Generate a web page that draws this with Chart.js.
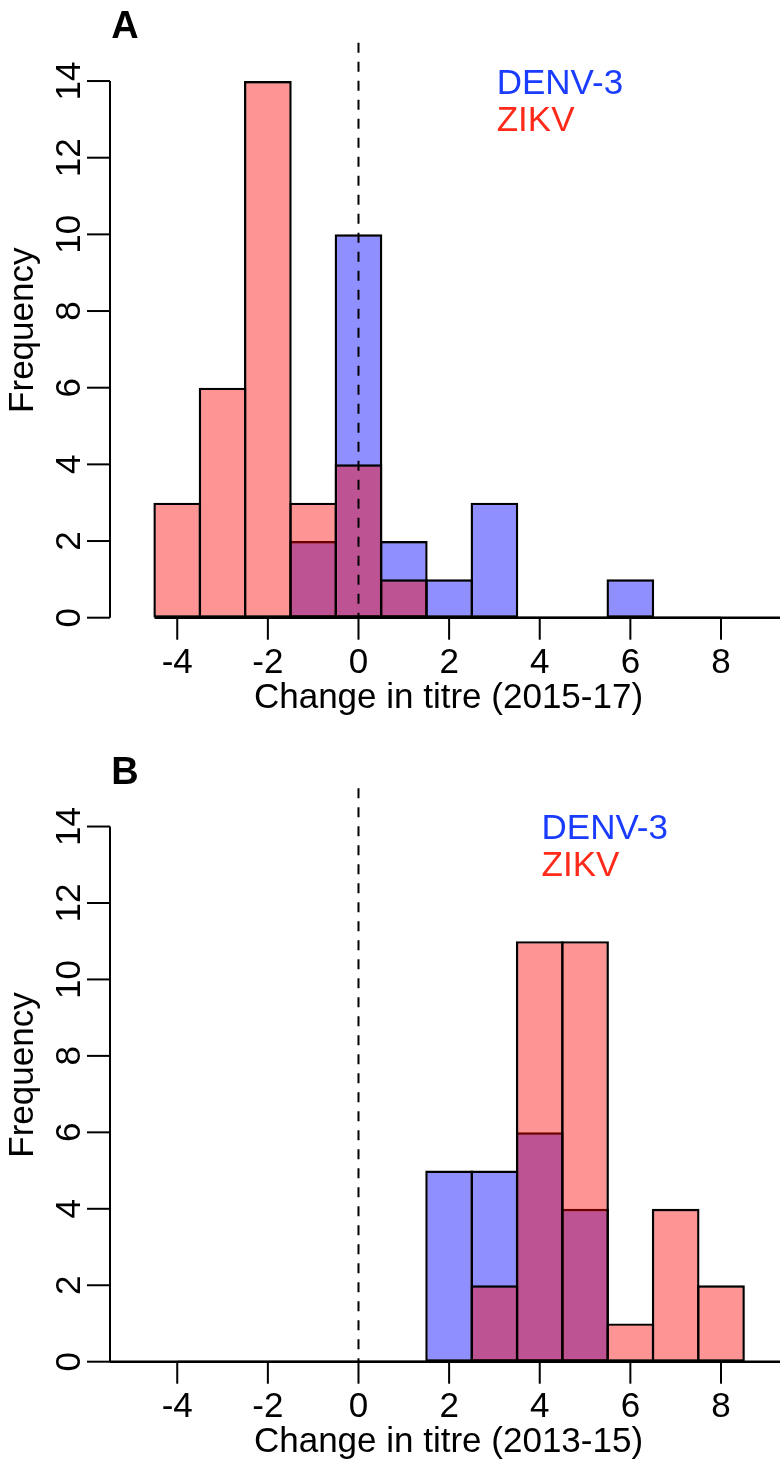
<!DOCTYPE html>
<html>
<head>
<meta charset="utf-8">
<script src="https://cdn.jsdelivr.net/npm/chart.js@4.4.1/dist/chart.umd.min.js"></script>
<style>
    html, body { margin: 0; padding: 0; background: #fff; overflow: hidden; }
    .panel { position: absolute; left: 0; width: 787px; height: 734px; }
</style>
</head>
<body>
<div class="panel" style="top:0"><canvas id="chartA" width="787" height="734"></canvas></div>
<div class="panel" style="top:734px"><canvas id="chartB" width="787" height="734"></canvas></div>
<script>
// bin centres (bins are 1 unit wide) and counts per bin
const binsA = [-4, -3, -2, -1, 0, 1, 2, 3, 4, 5, 6, 7, 8, 9];
const denvA = [0, 0, 0, 2, 10, 2, 1, 3, 0, 0, 1, 0, 0, 0];
const zikvA = [3, 6, 14, 3, 4, 1, 0, 0, 0, 0, 0, 0, 0, 0];

const binsB = [-5, -4, -3, -2, -1, 0, 1, 2, 3, 4, 5, 6, 7, 8, 9];
const denvB = [0, 0, 0, 0, 0, 0, 0, 5, 5, 6, 4, 0, 0, 0, 0];
const zikvB = [0, 0, 0, 0, 0, 0, 0, 0, 2, 11, 11, 1, 4, 2, 0];

const xTicks = [-4, -2, 0, 2, 4, 6, 8];
const yTicks = [0, 2, 4, 6, 8, 10, 12, 14];
const seriesNames = ['DENV-3', 'ZIKV'];

const FONT = "'Liberation Sans', Arial, Helvetica, sans-serif";
const BORDER = 2.4;

function line(ctx, x1, y1, x2, y2) {
    ctx.beginPath();
    ctx.moveTo(x1, y1);
    ctx.lineTo(x2, y2);
    ctx.stroke();
}

// R-style axes, dashed zero line, titles and text legend
const rAxes = {
    id: 'rAxes',
    afterDatasetsDraw(chart, args, opts) {
        const ctx = chart.ctx;
        const xs = chart.scales.x, ys = chart.scales.y, area = chart.chartArea;
        const y0 = ys.getPixelForValue(0);
        ctx.save();
        ctx.strokeStyle = '#000';
        ctx.fillStyle = '#000';

        // empty-bin baseline of the histogram
        ctx.lineWidth = BORDER;
        const bl = Math.max(area.left, xs.getPixelForValue(opts.bins[0] - 0.5));
        const br = Math.min(area.right, xs.getPixelForValue(opts.bins[opts.bins.length - 1] + 0.5));
        line(ctx, bl, y0, br, y0);

        // dashed line at 0
        ctx.lineWidth = 2;
        ctx.setLineDash([10, 9]);
        const xz = xs.getPixelForValue(0);
        line(ctx, xz, area.top, xz, y0);
        ctx.setLineDash([]);

        // x axis
        line(ctx, xs.getPixelForValue(xTicks[0]), y0, xs.getPixelForValue(xTicks[xTicks.length - 1]), y0);
        ctx.font = '35px ' + FONT;
        ctx.textAlign = 'center';
        ctx.textBaseline = 'alphabetic';
        xTicks.forEach(v => {
            const px = xs.getPixelForValue(v);
            line(ctx, px, y0, px, y0 + 22);
            ctx.fillText(String(v), px, y0 + 55.5);
        });
        ctx.fillText(opts.xTitle, (area.left + area.right) / 2, y0 + 90.5);

        // y axis
        const yTop = ys.getPixelForValue(yTicks[yTicks.length - 1]);
        line(ctx, area.left, y0, area.left, yTop);
        yTicks.forEach(v => {
            const py = ys.getPixelForValue(v);
            line(ctx, area.left - 23, py, area.left, py);
            ctx.save();
            ctx.translate(area.left - 30, py);
            ctx.rotate(-Math.PI / 2);
            ctx.fillText(String(v), 0, 0);
            ctx.restore();
        });
        ctx.save();
        ctx.translate(area.left - 77, (area.top + area.bottom) / 2);
        ctx.rotate(-Math.PI / 2);
        ctx.fillText('Frequency', 0, 0);
        ctx.restore();

        // panel letter
        ctx.font = 'bold 38px ' + FONT;
        ctx.fillText(opts.letter, area.left + 15, area.top - 4.5);

        // legend (text only)
        ctx.font = '35px ' + FONT;
        ctx.textAlign = 'left';
        const lx = xs.getPixelForValue(opts.legendAt);
        ctx.fillStyle = '#1a3cff';
        ctx.fillText(seriesNames[0], lx, area.top + 51);
        ctx.fillStyle = '#ff2a1a';
        ctx.fillText(seriesNames[1], lx, area.top + 88);
        ctx.restore();
    }
};

function makeChart(id, bins, denv, zikv, cfg) {
    const toPoints = counts => bins.map((b, i) => ({ x: b, y: counts[i] }));
    return new Chart(document.getElementById(id), {
        type: 'bar',
        data: {
            datasets: [
                {
                    label: seriesNames[0],
                    data: toPoints(denv),
                    backgroundColor: 'rgba(0, 0, 255, 0.44)',
                    borderColor: '#000',
                    borderWidth: BORDER,
                    borderSkipped: false,
                    order: 2
                },
                {
                    label: seriesNames[1],
                    data: toPoints(zikv),
                    backgroundColor: 'rgba(255, 0, 0, 0.42)',
                    borderColor: '#000',
                    borderWidth: BORDER,
                    borderSkipped: false,
                    order: 1
                }
            ]
        },
        options: {
            responsive: false,
            animation: false,
            events: [],
            grouped: false,
            categoryPercentage: 1,
            barPercentage: 1.053,
            layout: { padding: cfg.padding },
            scales: {
                x: {
                    type: 'linear',
                    display: false,
                    offset: false,
                    min: -5.484,
                    max: 9.457,
                    afterBuildTicks: s => { s.ticks = xTicks.map(v => ({ value: v })); }
                },
                y: {
                    display: false,
                    min: 0,
                    max: 15,
                    afterBuildTicks: s => { s.ticks = yTicks.map(v => ({ value: v })); }
                }
            },
            plugins: {
                legend: { display: false },
                tooltip: { enabled: false },
                rAxes: {
                    bins: bins,
                    xTitle: cfg.xTitle,
                    letter: cfg.letter,
                    legendAt: cfg.legendAt
                }
            }
        },
        plugins: [rAxes]
    });
}

makeChart('chartA', binsA, denvA, zikvA, {
    xTitle: 'Change in titre (2015-17)',
    letter: 'A',
    legendAt: 3.05,
    padding: { top: 42.7, left: 110, right: 0, bottom: 116.3 }
});

makeChart('chartB', binsB, denvB, zikvB, {
    xTitle: 'Change in titre (2013-15)',
    letter: 'B',
    legendAt: 4.04,
    padding: { top: 54.3, left: 110, right: 0, bottom: 106.3 }
});
</script>
</body>
</html>
